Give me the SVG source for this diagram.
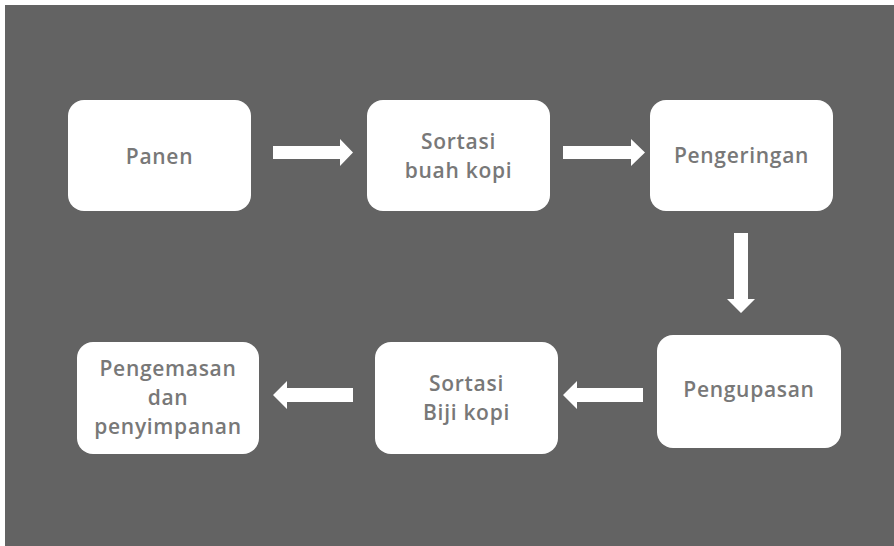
<svg xmlns="http://www.w3.org/2000/svg" width="894" height="546" viewBox="0 0 894 546">
<style>
.box{fill:#ffffff}
.lbl{font-family:"Open Sans","Liberation Sans",sans-serif;font-weight:600;font-size:21px;fill:#787878;text-anchor:middle;letter-spacing:0.7px}
.arr{fill:#ffffff}
</style>
<rect x="0" y="0" width="894" height="546" fill="#ffffff"/>
<rect x="5" y="5" width="889" height="541" fill="#636363"/>
<g id="connectors">
<polygon class="arr" points="273,146 340,146 340,139 353,152.5 340,166 340,159 273,159"/>
<polygon class="arr" points="563,146 631,146 631,139 645,152.5 631,166 631,159 563,159"/>
<polygon class="arr" points="734,233 748,233 748,299 755,299 741,313 727,299 734,299"/>
<polygon class="arr" points="353,388 287,388 287,381 273,395 287,409 287,402 353,402"/>
<polygon class="arr" points="643,388 577,388 577,381 563,395 577,409 577,402 643,402"/>
</g>
<g id="panen">
<rect class="box" x="68" y="100" width="183" height="111" rx="16"/>
<text class="lbl" x="159.5" y="164">Panen</text>
</g>
<g id="sortasi-buah">
<rect class="box" x="367" y="100" width="183" height="111" rx="16"/>
<text class="lbl" x="458.5" y="149">Sortasi</text>
<text class="lbl" x="458.5" y="178">buah kopi</text>
</g>
<g id="pengeringan">
<rect class="box" x="650" y="100" width="183" height="111" rx="16"/>
<text class="lbl" x="741.5" y="163">Pengeringan</text>
</g>
<g id="pengupasan">
<rect class="box" x="657" y="335" width="184" height="113" rx="16"/>
<text class="lbl" x="749" y="397">Pengupasan</text>
</g>
<g id="sortasi-biji">
<rect class="box" x="375" y="342" width="183" height="112" rx="16"/>
<text class="lbl" x="466.5" y="391">Sortasi</text>
<text class="lbl" x="466.5" y="420">Biji kopi</text>
</g>
<g id="pengemasan">
<rect class="box" x="77" y="342" width="182" height="112" rx="16"/>
<text class="lbl" x="168" y="376">Pengemasan</text>
<text class="lbl" x="168" y="405">dan</text>
<text class="lbl" x="168" y="434">penyimpanan</text>
</g>
</svg>
